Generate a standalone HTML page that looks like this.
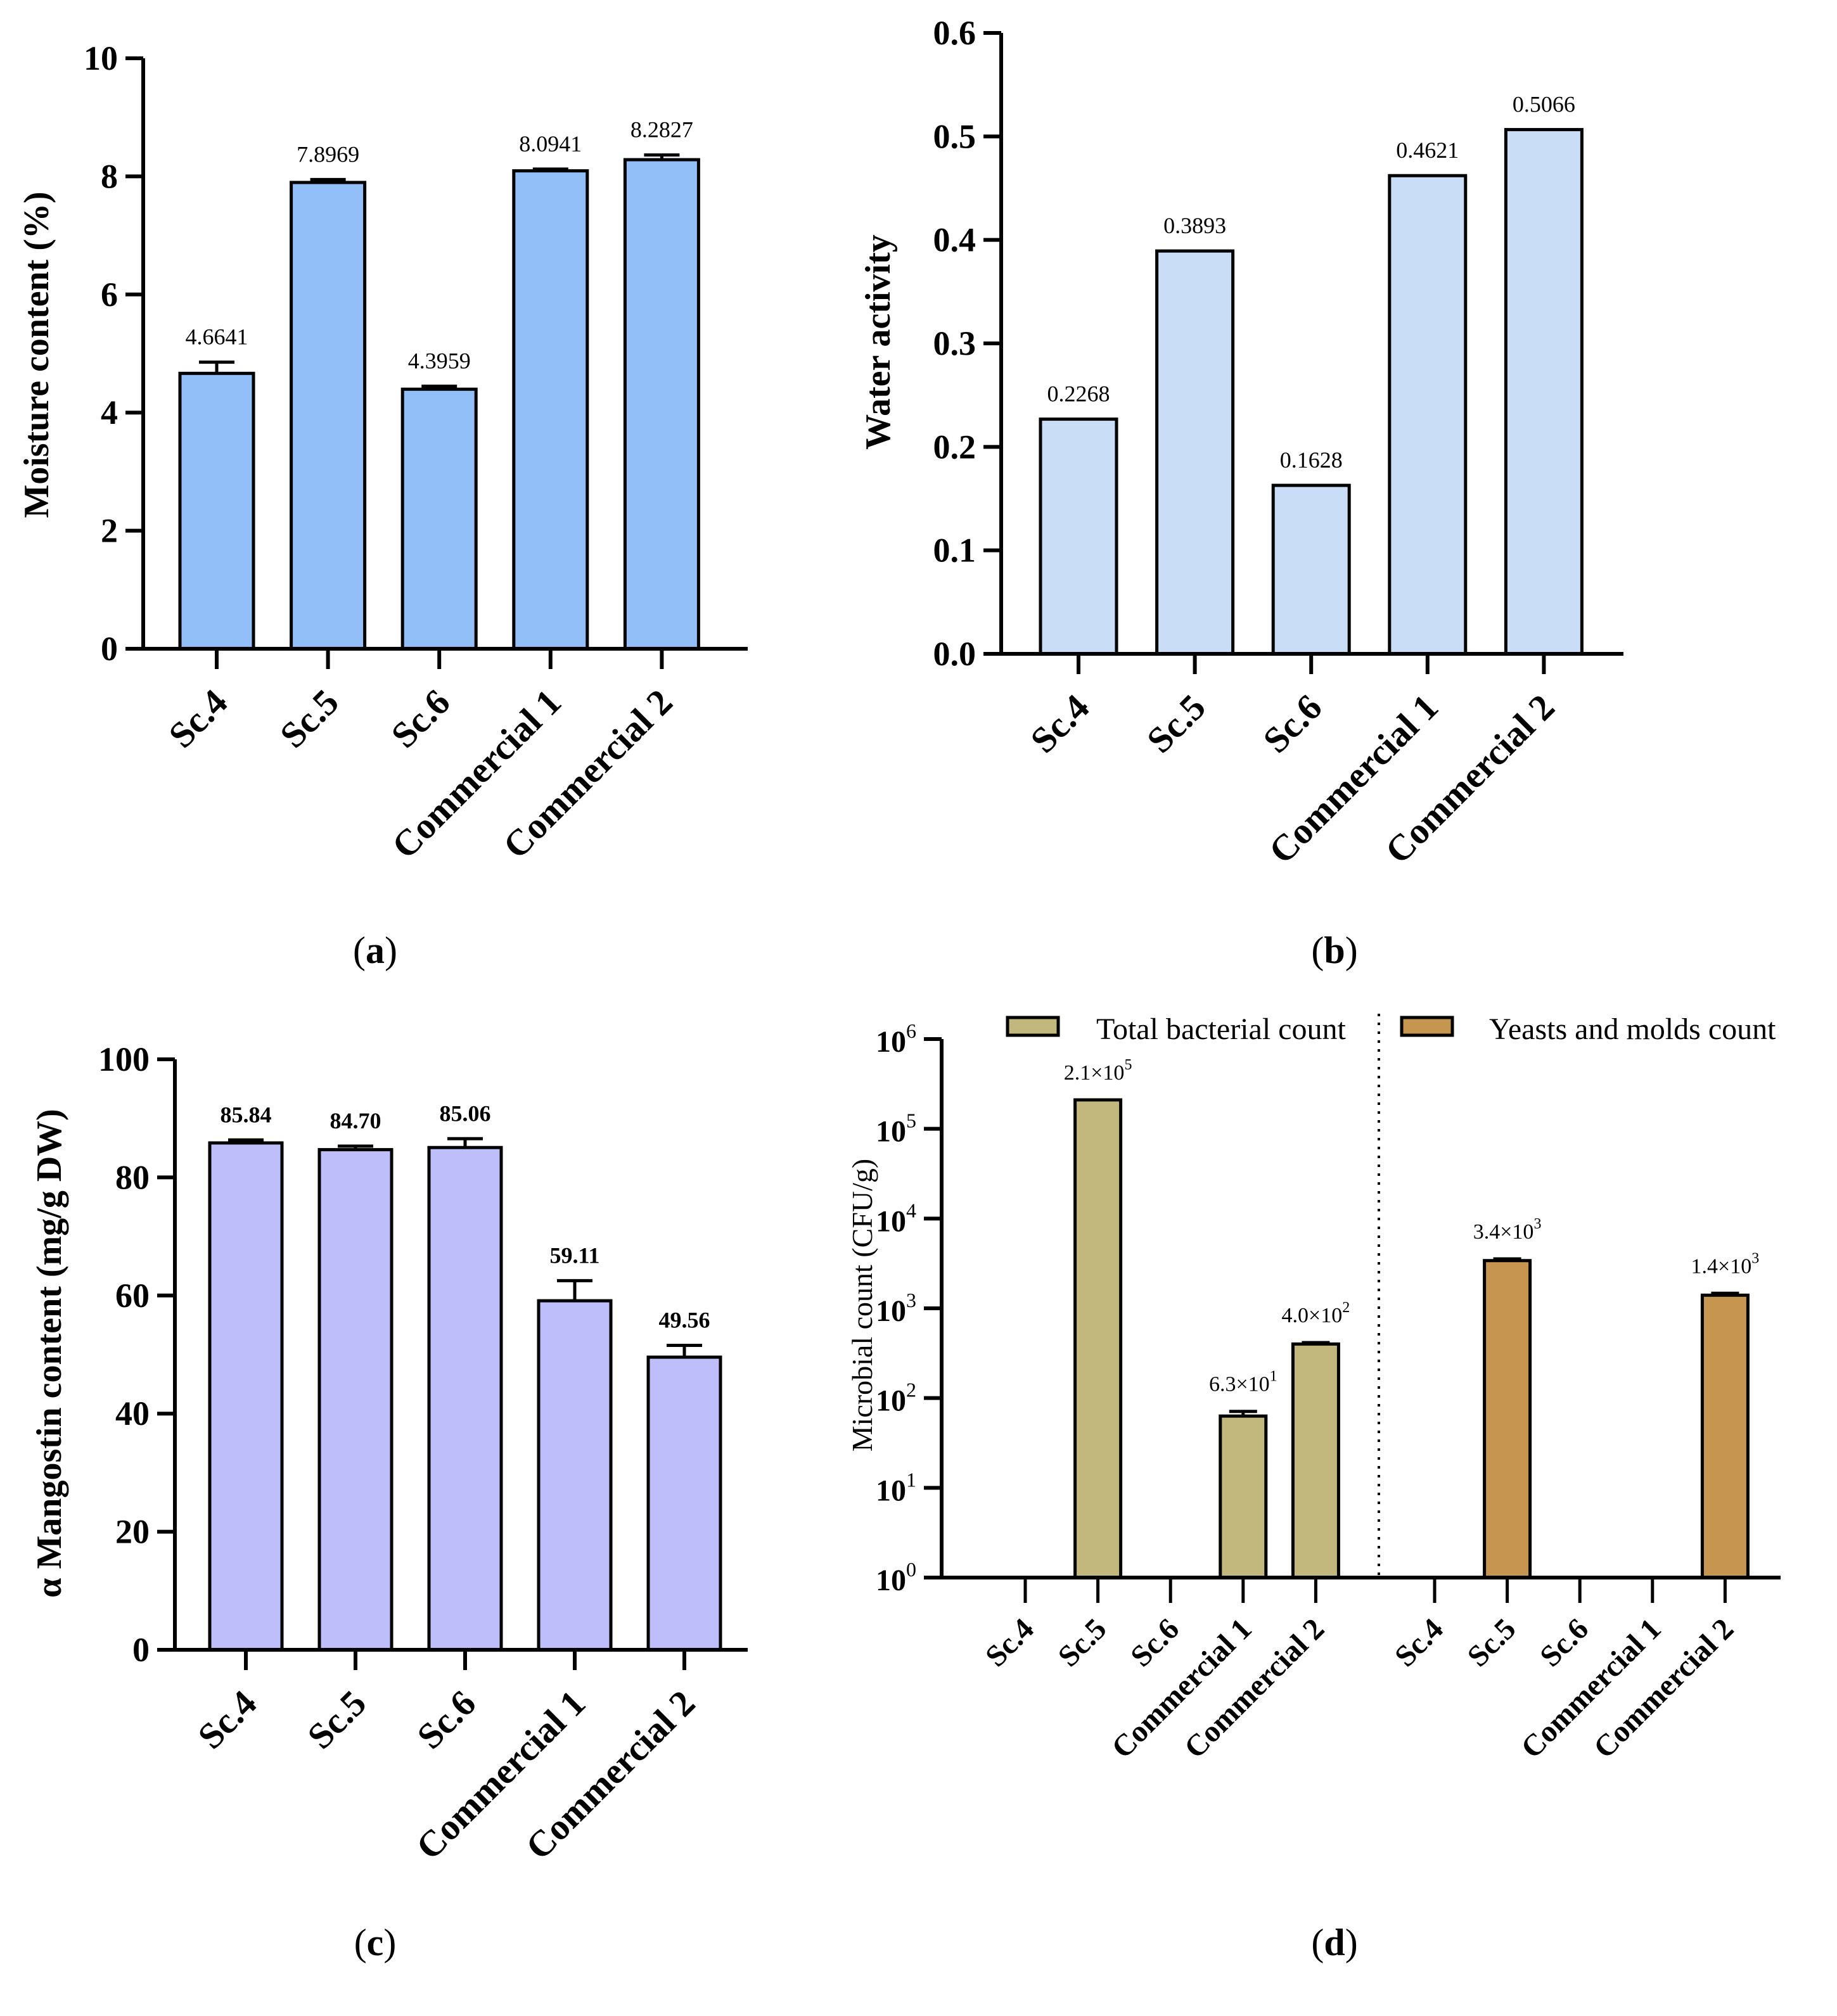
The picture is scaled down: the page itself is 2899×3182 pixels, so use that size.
<!DOCTYPE html>
<html><head><meta charset="utf-8"><style>
html,body{margin:0;padding:0;background:#fff;}
svg{display:block;}
text{font-family:"Liberation Serif",serif;fill:#000;}
</style></head><body>
<svg id="fig" width="2899" height="3182" viewBox="0 0 1449.5 1591" xmlns="http://www.w3.org/2000/svg"></svg>
<script>
const categories = ["Sc.4","Sc.5","Sc.6","Commercial 1","Commercial 2"];
const moistureValues = [4.6641,7.8969,4.3959,8.0941,8.2827];
const moistureErrors = [0.19,0.05,0.05,0.03,0.08];
const moistureLabels = ["4.6641","7.8969","4.3959","8.0941","8.2827"];
const moistureTicks = [0,2,4,6,8,10];
const waterValues = [0.2268,0.3893,0.1628,0.4621,0.5066];
const waterLabels = ["0.2268","0.3893","0.1628","0.4621","0.5066"];
const waterTicks = ["0.0","0.1","0.2","0.3","0.4","0.5","0.6"];
const mangValues = [85.84,84.70,85.06,59.11,49.56];
const mangErrors = [0.5,0.6,1.5,3.4,2.0];
const mangLabels = ["85.84","84.70","85.06","59.11","49.56"];
const mangTicks = [0,20,40,60,80,100];
const tbcValues = [1,210000,1,63,400];
const tbcErrors = [0,0,0,8,15];
const tbcLabels = ["","2.1×10|5","","6.3×10|1","4.0×10|2"];
const ymValues = [1,3400,1,1,1400];
const ymErrors = [0,150,0,0,70];
const ymLabels = ["","3.4×10|3","","","1.4×10|3"];
const logTicks = [0,1,2,3,4,5,6];

const NS="http://www.w3.org/2000/svg";
const svg=document.getElementById('fig');
function mk(tag,attrs,parent){const e=document.createElementNS(NS,tag);for(const k in attrs)e.setAttribute(k,attrs[k]);(parent||svg).appendChild(e);return e;}
function txt(s,attrs,parent){const e=mk('text',attrs,parent);e.textContent=s;return e;}

function panel(o){
  const g=mk('g',{});
  
  
  const y=v=>o.y0-(v-o.vmin)/(o.vmax-o.vmin)*(o.y0-o.ytop);
  o.values.forEach((v,i)=>{
    const cx=o.cx0+i*o.step;
    if(o.errors&&o.errors[i]>0){
      const ln=mk('path',{d:`M${cx} ${y(v)} V${y(v+o.errors[i])} M${cx-14} ${y(v+o.errors[i])} H${cx+14}`,stroke:'#000','stroke-width':2.5,fill:'none'},g);
      
      
    }
    const r=mk('rect',{x:cx-o.bw/2,y:y(v),width:o.bw,height:o.y0-y(v),fill:o.color,stroke:'#000','stroke-width':2.5},g);
    
    
    const vl=txt(o.labels[i],{x:cx,y:y(v+(o.errors?o.errors[i]:0))-14,'text-anchor':'middle','font-size':18,'font-weight':o.boldVals?'bold':'normal'},g);
    
    
  });
  mk('path',{d:`M${o.ax} ${o.ytop} V${o.y0} H${o.xend}`,stroke:'#000','stroke-width':3,fill:'none'},g);
  o.ticks.forEach(t=>{
    const ty=y(parseFloat(t));
    mk('line',{x1:o.ax-14,x2:o.ax,y1:ty,y2:ty,stroke:'#000','stroke-width':3},g);
    const tl=txt(String(t),{x:o.ax-20,y:ty+9,'text-anchor':'end','font-size':27,'font-weight':'bold'},g);
    
    
  });
  categories.forEach((c,i)=>{
    const cx=o.cx0+i*o.step;
    mk('line',{x1:cx,x2:cx,y1:o.y0,y2:o.y0+16,stroke:'#000','stroke-width':3},g);
    const cl=txt(c,{x:0,y:0,transform:`translate(${cx+10},${o.y0+44}) rotate(-45)`,'text-anchor':'end','font-size':29,'font-weight':'bold'},g);
    
    
  });
  const yt=txt(o.title,{x:0,y:0,transform:`translate(${o.tx},${o.tcy}) rotate(-90)`,'text-anchor':'middle','font-size':28,'font-weight':'bold'},g);
  
  
  const cap=txt('',{x:o.capx,y:o.capy,'text-anchor':'middle','font-size':30},g);
  cap.innerHTML=`(<tspan font-weight="bold">${o.cap}</tspan>)`;
  
  
}

panel({name:'moisture-chart',values:moistureValues,errors:moistureErrors,labels:moistureLabels,ticks:moistureTicks,vmin:0,vmax:10,y0:512,ytop:46,ax:113,xend:590,cx0:171,step:87.8,bw:58,color:'#92bff8',title:'Moisture content (%)',tx:38,tcy:280,cap:'a',capx:296,capy:760});
panel({name:'water-activity-chart',values:waterValues,errors:null,labels:waterLabels,ticks:waterTicks,vmin:0,vmax:0.6,y0:516,ytop:26,ax:790,xend:1281,cx0:851,step:91.8,bw:60,color:'#c9ddf7',title:'Water activity',tx:702,tcy:270,cap:'b',capx:1053,capy:760});
panel({name:'mangostin-chart',values:mangValues,errors:mangErrors,labels:mangLabels,ticks:mangTicks,vmin:0,vmax:100,y0:1302,ytop:836,ax:138,xend:590,cx0:194,step:86.5,bw:57,color:'#bebefb',boldVals:true,title:'α Mangostin content (mg/g DW)',tx:48,tcy:1068,cap:'c',capx:296,capy:1543});

(function(){
  const g=mk('g',{});
  
  
  const y0=1245, ytop=820, ax=743, xend=1405;
  const y=v=>y0-Math.log10(v)/6*(y0-ytop);
  const groups=[{vals:tbcValues,errs:tbcErrors,labs:tbcLabels,cx0:809,color:'#c2b77d',n:'tbc'},{vals:ymValues,errs:ymErrors,labs:ymLabels,cx0:1132,color:'#c69550',n:'ym'}];
  groups.forEach(gr=>{
    gr.vals.forEach((v,i)=>{
      const cx=gr.cx0+i*57.3;
      if(v>1){
        if(gr.errs[i]>0){
          const e=mk('path',{d:`M${cx} ${y(v)} V${y(v+gr.errs[i])} M${cx-11} ${y(v+gr.errs[i])} H${cx+11}`,stroke:'#000','stroke-width':2.5,fill:'none'},g);
          
          
        }
        const r=mk('rect',{x:cx-18,y:y(v),width:36,height:y0-y(v),fill:gr.color,stroke:'#000','stroke-width':2.5},g);
        
        
      }
      if(gr.labs[i]){
        const p=gr.labs[i].split('|');
        const t=mk('text',{x:cx,y:y(v+gr.errs[i])-16,'text-anchor':'middle','font-size':17},g);
        t.innerHTML=p[0]+`<tspan dy="-8" font-size="12">${p[1]}</tspan>`;
        
        
      }
      mk('line',{x1:cx,x2:cx,y1:y0,y2:y0+20,stroke:'#000','stroke-width':2.5},g);
      const cl=txt(categories[i],{x:0,y:0,transform:`translate(${cx+8},${y0+42}) rotate(-45)`,'text-anchor':'end','font-size':24,'font-weight':'bold'},g);
      
      
    });
  });
  mk('path',{d:`M${ax} ${ytop} V${y0} H${xend}`,stroke:'#000','stroke-width':3,fill:'none'},g);
  mk('line',{x1:1088,x2:1088,y1:800,y2:y0,stroke:'#000','stroke-width':2,'stroke-dasharray':'2 5'},g);
  logTicks.forEach(p=>{
    const ty=y(Math.pow(10,p));
    mk('line',{x1:ax-14,x2:ax,y1:ty,y2:ty,stroke:'#000','stroke-width':3},g);
    const t=mk('text',{x:ax-20,y:ty+10,'text-anchor':'end','font-size':24,'font-weight':'bold'},g);
    t.innerHTML=`10<tspan dy="-11" font-size="16" font-weight="normal">${p}</tspan>`;
    
    
  });
  const leg=[[795,'#c2b77d','Total bacterial count',865],[1106,'#c69550','Yeasts and molds count',1175]];
  leg.forEach(l=>{
    const s=mk('rect',{x:l[0],y:803,width:40,height:14,fill:l[1],stroke:'#000','stroke-width':2.5},g);
    
    
    const t=txt(l[2],{x:l[3],y:820,'font-size':24},g);
    
    
  });
  const yt=txt('Microbial count (CFU/g)',{x:0,y:0,transform:`translate(688,1030) rotate(-90)`,'text-anchor':'middle','font-size':23,'font-weight':'normal'},g);
  
  
  const cap=mk('text',{x:1053,y:1543,'text-anchor':'middle','font-size':30},g);
  cap.innerHTML='(<tspan font-weight="bold">d</tspan>)';
  
  
})();
</script>
</body></html>
